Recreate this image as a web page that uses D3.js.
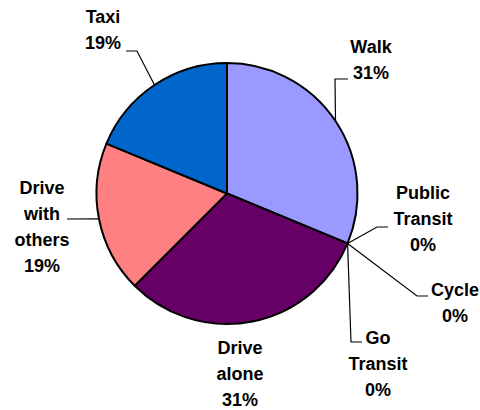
<!DOCTYPE html>
<html>
<head>
<meta charset="utf-8">
<script src="https://cdn.jsdelivr.net/npm/d3@7"></script>
<style>
  html, body { margin: 0; padding: 0; background: #fff; }
  svg { display: block; }
</style>
</head>
<body>
<svg id="chart" width="480" height="410"></svg>
<script>
// ---- data ----
const categories = ["Walk", "Public Transit", "Cycle", "Go Transit", "Drive alone", "Drive with others", "Taxi"];
const values = [5, 0, 0, 0, 5, 3, 3];
const colors = ["#9999FF", "#993366", "#FFFFCC", "#CCFFFF", "#660066", "#FF8080", "#0066CC"];
const labelLines = [["Walk"], ["Public", "Transit"], ["Cycle"], ["Go", "Transit"], ["Drive", "alone"], ["Drive", "with", "others"], ["Taxi"]];

// ---- layout (label placement) ----
const labelPos = [
  {x: 371, y: 47,  leader: [[335, 79], [348, 79]]},
  {x: 423, y: 193, leader: [[377, 227], [388, 227]]},
  {x: 455, y: 290, leader: [[417, 296], [428, 296]]},
  {x: 378, y: 338, leader: [[351, 342], [362, 342]]},
  {x: 240, y: 348, leader: null},
  {x: 42,  y: 188, leader: [[67, 219]]},
  {x: 103, y: 17,  leader: [[137, 51], [126, 51]]}
];

const cx = 227, cy = 193.5, R = 130.5;
const lineH = 26;
const total = d3.sum(values);
const fmt = d3.format(".0%");

const svg = d3.select("#chart");
const g = svg.append("g").attr("transform", `translate(${cx},${cy})`);

const pie = d3.pie().sort(null).value(d => d.value);
const data = categories.map((c, i) => ({name: c, value: values[i], i}));
const arcs = pie(data);
const arc = d3.arc().innerRadius(0).outerRadius(R);

g.selectAll("path.slice")
  .data(arcs.filter(a => a.data.value > 0))
  .join("path")
  .attr("class", "slice")
  .attr("d", arc)
  .attr("fill", d => colors[d.data.i])
  .attr("stroke", "#000")
  .attr("stroke-width", 2)
  .attr("stroke-linejoin", "round");

// leader lines
const edgePoint = a => {
  const m = (a.startAngle + a.endAngle) / 2;
  return [cx + R * Math.sin(m), cy - R * Math.cos(m)];
};
const line = d3.line();
arcs.forEach((a, k) => {
  const lp = labelPos[k];
  if (!lp.leader) return;
  const pts = [edgePoint(a), ...lp.leader];
  svg.append("path")
    .attr("d", line(pts))
    .attr("fill", "none")
    .attr("stroke", "#000")
    .attr("stroke-width", 1.2);
});

// labels
arcs.forEach((a, k) => {
  const lp = labelPos[k];
  const lines = labelLines[k].concat([fmt(a.data.value / total)]);
  const t = svg.append("text")
    .attr("x", lp.x)
    .attr("y", lp.y)
    .attr("text-anchor", "middle")
    .attr("font-family", "'Liberation Sans', Arial, sans-serif")
    .attr("font-weight", "bold")
    .attr("font-size", 18)
    .attr("fill", "#000");
  lines.forEach((s, j) => {
    t.append("tspan")
      .attr("x", lp.x)
      .attr("y", lp.y + j * lineH)
      .attr("dominant-baseline", "central")
      .text(s);
  });
});
</script>
</body>
</html>
